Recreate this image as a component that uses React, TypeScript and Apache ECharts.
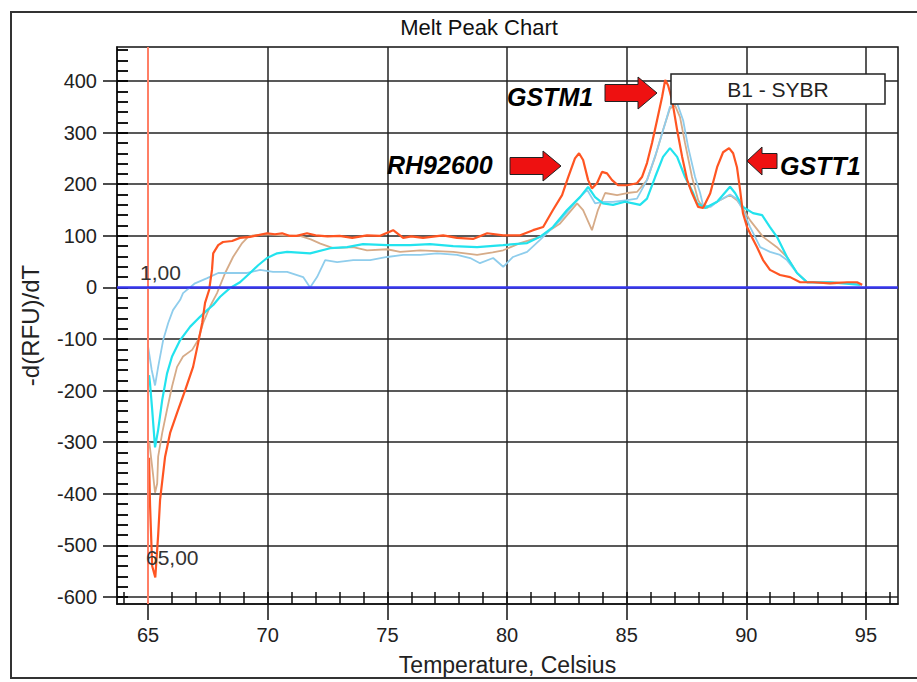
import React, { useEffect, useRef } from "react";
import * as echarts from "echarts";

// ---- Tick positions ----
const xMajorTicks = [65, 70, 75, 80, 85, 90, 95];
const xMinorTicks = [64, 65, 66, 67, 68, 69, 70, 71, 72, 73, 74, 75, 76, 77, 78, 79, 80, 81, 82, 83, 84, 85, 86, 87, 88, 89, 90, 91, 92, 93, 94, 95, 96];
const yMajorTicks = [-600, -500, -400, -300, -200, -100, 0, 100, 200, 300, 400];
const yMinorTicks = [
  -600, -580, -560, -540, -520, -500, -480, -460, -440, -420, -400, -380, -360, -340, -320, -300, -280, -260,
  -240, -220, -200, -180, -160, -140, -120, -100, -80, -60, -40, -20, 0, 20, 40, 60, 80, 100, 120, 140, 160, 180,
  200, 220, 240, 260, 280, 300, 320, 340, 360, 380, 400, 420, 440, 460,
];

// ---- Melt peak curves: [temperature, -d(RFU)/dT] ----
const orangeCurve: [number, number][] = [
  [65.04, -330], [65.08, -420], [65.17, -540], [65.3, -562], [65.42, -480], [65.5, -412], [65.71, -328], [65.92, -282],
  [66.21, -243], [66.55, -199], [66.88, -154], [67.09, -108], [67.26, -69], [67.38, -30], [67.55, -5], [67.67, 34],
  [67.72, 66], [67.93, 82], [68.13, 88], [68.51, 90], [68.84, 96], [69.26, 98], [69.56, 101], [69.97, 105],
  [70.3, 103], [70.6, 105], [70.9, 100], [71.2, 100], [71.64, 105], [72.0, 101], [72.5, 99], [73.0, 100],
  [73.53, 96], [74.15, 101], [74.7, 100], [75.24, 111], [75.66, 96], [76.0, 99], [76.49, 96], [77.33, 101],
  [77.91, 96], [78.58, 94], [79.17, 105], [79.84, 101], [80.55, 101], [81.09, 111], [81.51, 117], [81.92, 150],
  [82.3, 179], [82.55, 213], [82.84, 250], [83.01, 260], [83.18, 247], [83.39, 208], [83.55, 192], [83.76, 202],
  [83.97, 224], [84.18, 221], [84.39, 208], [84.64, 198], [85.02, 198], [85.43, 202], [85.64, 214], [85.85, 241],
  [86.06, 280], [86.27, 324], [86.48, 369], [86.61, 402], [86.73, 392], [86.9, 363], [87.11, 305], [87.32, 253],
  [87.53, 208], [87.73, 183], [87.99, 156], [88.19, 154], [88.49, 182], [88.78, 233], [89.03, 262], [89.28, 270],
  [89.45, 260], [89.61, 233], [89.74, 189], [89.86, 144], [90.03, 117], [90.24, 97], [90.45, 78], [90.7, 53],
  [90.99, 34], [91.41, 24], [91.83, 20], [92.25, 10], [92.79, 10], [93.5, 8], [94.21, 10], [94.63, 10], [94.84, 5],
];

const tanCurve: [number, number][] = [
  [65.05, -300], [65.2, -360], [65.29, -398], [65.38, -380], [65.42, -328], [65.59, -282], [65.79, -237], [66.0, -192],
  [66.21, -154], [66.46, -134], [66.84, -121], [67.09, -102], [67.3, -69], [67.59, -37], [67.88, -11], [68.22, 28],
  [68.55, 59], [68.93, 86], [69.18, 98], [69.39, 101], [70.0, 103], [70.6, 101], [71.35, 100], [71.8, 93],
  [72.2, 85], [72.73, 76], [73.57, 78], [74.15, 72], [74.99, 74], [75.53, 69], [76.37, 72], [77.75, 69],
  [78.75, 63], [79.4, 68], [79.84, 72], [80.55, 86], [81.38, 98], [82.22, 124], [82.93, 163], [83.18, 150],
  [83.55, 111], [83.8, 150], [84.1, 183], [84.6, 179], [85.02, 183], [85.43, 185], [85.85, 208], [86.19, 253],
  [86.52, 305], [86.81, 347], [87.02, 353], [87.23, 330], [87.44, 280], [87.73, 214], [87.99, 169], [88.07, 163],
  [88.36, 154], [88.78, 166], [89.32, 179], [89.61, 169], [89.82, 156], [90.16, 130], [90.7, 98], [91.28, 78],
  [91.7, 59], [92.12, 28], [92.54, 10], [93.5, 10], [94.5, 8], [94.84, 5],
];

const lightBlueCurve: [number, number][] = [
  [65.0, -115], [65.15, -160], [65.29, -190], [65.42, -154], [65.63, -102], [65.84, -69], [66.04, -44], [66.34, -24],
  [66.46, -11], [66.96, 8], [67.47, 18], [67.93, 28], [68.43, 28], [69.14, 28], [69.68, 34], [70.22, 30],
  [70.81, 30], [71.48, 20], [71.77, 0], [72.06, 20], [72.4, 53], [72.9, 49], [73.57, 53], [74.28, 53],
  [74.99, 59], [75.66, 63], [76.37, 63], [77.08, 66], [77.91, 63], [78.46, 57], [78.87, 47], [79.42, 57],
  [79.84, 40], [80.25, 59], [80.84, 69], [81.38, 92], [82.22, 130], [82.93, 169], [83.35, 189], [83.68, 163],
  [84.01, 166], [84.43, 166], [85.02, 169], [85.43, 172], [85.85, 208], [86.27, 266], [86.61, 318], [86.81, 350],
  [87.11, 357], [87.36, 324], [87.57, 272], [87.86, 214], [88.07, 183], [88.19, 160], [88.5, 156], [88.78, 166],
  [89.32, 180], [89.6, 172], [89.86, 150], [90.16, 117], [90.58, 78], [90.99, 69], [91.41, 63], [91.7, 53],
  [92.12, 28], [92.54, 10], [93.5, 8], [94.5, 8], [94.84, 5],
];

const cyanCurve: [number, number][] = [
  [65.04, -170], [65.08, -186], [65.17, -237], [65.29, -310], [65.42, -276], [65.59, -218], [65.79, -167], [66.0, -134],
  [66.34, -102], [66.76, -76], [67.17, -57], [67.47, -44], [67.72, -34], [68.01, -18], [68.43, -1], [68.84, 10],
  [69.26, 28], [69.6, 43], [69.97, 57], [70.39, 66], [70.81, 69], [71.77, 66], [72.61, 76], [73.32, 78],
  [73.98, 84], [74.99, 82], [75.95, 82], [76.78, 84], [77.75, 80], [78.75, 78], [79.84, 82], [80.84, 86],
  [81.38, 98], [81.92, 117], [82.51, 150], [83.05, 175], [83.39, 195], [83.68, 175], [84.01, 163], [84.43, 160],
  [84.93, 166], [85.27, 163], [85.56, 160], [85.85, 172], [86.19, 214], [86.52, 253], [86.81, 270], [87.11, 253],
  [87.44, 214], [87.78, 183], [87.94, 163], [88.28, 154], [88.78, 166], [89.32, 195], [89.53, 183], [89.86, 156],
  [90.28, 144], [90.66, 140], [90.99, 117], [91.28, 98], [91.7, 59], [92.12, 28], [92.54, 10], [93.5, 10], [94.75, 5],
];

const cursorTemp = 65;
const baselineValue = 0;

const FONT = "Liberation Sans, Arial, sans-serif";
const X_MIN = 63.7;
const X_MAX = 96.34;
const Y_MIN = -613.6;
const Y_MAX = 466;

function arrowRight(x0: number, xHead: number, xTip: number, yMid: number, bodyHalf: number, headHalf: number) {
  return [
    [x0, yMid - bodyHalf], [xHead, yMid - bodyHalf], [xHead, yMid - headHalf], [xTip, yMid],
    [xHead, yMid + headHalf], [xHead, yMid + bodyHalf], [x0, yMid + bodyHalf],
  ];
}

export default function App() {
  const ref = useRef<HTMLDivElement>(null);
  useEffect(() => {
    document.body.style.margin = "0";
    const chart = echarts.init(ref.current!, undefined, { renderer: "svg" });
    const axisLineStyle = { color: "#111", width: 1.5 };
    const option: any = {
      animation: false,
      backgroundColor: "#fff",
      grid: { left: 117, right: 19, top: 47, bottom: 78, show: true, borderColor: "#111", borderWidth: 1.5, outerBoundsMode: "none" },
      xAxis: [
        {
          type: "value", min: X_MIN, max: X_MAX, position: "bottom",
          name: "Temperature, Celsius", nameLocation: "middle", nameGap: 49,
          nameTextStyle: { fontSize: 23, color: "#222", fontFamily: FONT },
          axisLine: { show: true, onZero: false, lineStyle: axisLineStyle },
          axisTick: { show: true, customValues: xMajorTicks, length: 16, lineStyle: axisLineStyle },
          axisLabel: { customValues: xMajorTicks, margin: 21, fontSize: 20, color: "#222", fontFamily: FONT },
          splitLine: { show: true, lineStyle: { color: "#222", width: 1.5 } },
        },
        {
          type: "value", min: X_MIN, max: X_MAX, position: "bottom", offset: 0,
          axisLine: { show: false, onZero: false },
          axisTick: { show: true, inside: true, length: 12, customValues: xMinorTicks, lineStyle: axisLineStyle },
          axisLabel: { show: false },
          splitLine: { show: false },
        },
      ],
      yAxis: [
        {
          type: "value", min: Y_MIN, max: Y_MAX, position: "left", offset: 0,
          name: "-d(RFU)/dT", nameLocation: "middle", nameGap: 75,
          nameTextStyle: { fontSize: 24, color: "#222", fontFamily: FONT },
          axisLine: { show: true, onZero: false, lineStyle: axisLineStyle },
          axisTick: { show: true, customValues: yMajorTicks, length: 14, lineStyle: axisLineStyle },
          axisLabel: { customValues: yMajorTicks, margin: 20, fontSize: 20, color: "#222", fontFamily: FONT },
          splitLine: { show: true, lineStyle: { color: "#222", width: 1.5 } },
        },
        {
          type: "value", min: Y_MIN, max: Y_MAX, position: "left", offset: 0,
          axisLine: { show: false, onZero: false },
          axisTick: { show: true, inside: true, length: 11, customValues: yMinorTicks, lineStyle: { color: "#000", width: 1.8 } },
          axisLabel: { show: false },
          splitLine: { show: false },
        },
      ],
      series: [
        {
          type: "line", data: tanCurve, showSymbol: false, silent: true,
          lineStyle: { color: "#d6ab88", width: 1.8 },
        },
        {
          type: "line", data: lightBlueCurve, showSymbol: false, silent: true,
          lineStyle: { color: "#8fcdec", width: 1.8 },
        },
        {
          type: "line", data: cyanCurve, showSymbol: false, silent: true,
          lineStyle: { color: "#22e3ee", width: 2.2 },
        },
        {
          type: "line", data: orangeCurve, showSymbol: false, silent: true,
          lineStyle: { color: "#ff5522", width: 2.2 },
          markLine: {
            silent: true, symbol: "none", label: { show: false },
            data: [
              { xAxis: cursorTemp, lineStyle: { color: "#ff7f66", width: 2, type: "solid" } },
              { yAxis: baselineValue, lineStyle: { color: "#3535ee", width: 2.5, type: "solid" } },
            ],
          },
        },
      ],
      graphic: [
        { type: "rect", shape: { x: 11, y: 12, width: 920, height: 666 }, style: { fill: "none", stroke: "#333", lineWidth: 2 }, z: 1 },
        { type: "text", x: 479, y: 27, style: { text: "Melt Peak Chart", font: `22px ${FONT}`, fill: "#111", align: "center", verticalAlign: "middle" } },
        { type: "text", x: 140, y: 272, style: { text: "1,00", font: `21px ${FONT}`, fill: "#333", align: "left", verticalAlign: "middle" }, z: 50 },
        { type: "text", x: 146, y: 557, style: { text: "65,00", font: `21px ${FONT}`, fill: "#333", align: "left", verticalAlign: "middle" }, z: 50 },
        { type: "rect", shape: { x: 671, y: 74, width: 214, height: 30 }, style: { fill: "#fff", stroke: "#222", lineWidth: 1.5 }, z: 50 },
        { type: "text", x: 778, y: 89, style: { text: "B1 - SYBR", font: `21px ${FONT}`, fill: "#222", align: "center", verticalAlign: "middle" }, z: 51 },
        { type: "polygon", shape: { points: arrowRight(605, 638, 657, 93, 8.5, 16) }, style: { fill: "#ee1111", stroke: "#222", lineWidth: 1 }, z: 50 },
        { type: "polygon", shape: { points: arrowRight(510, 543, 561, 166, 8.5, 15) }, style: { fill: "#ee1111", stroke: "#222", lineWidth: 1 }, z: 50 },
        { type: "polygon", shape: { points: arrowRight(777, 762, 747, 161, 7.5, 14) }, style: { fill: "#ee1111", stroke: "#222", lineWidth: 1 }, z: 50 },
        { type: "text", x: 507, y: 97, style: { text: "GSTM1", font: `italic bold 25px ${FONT}`, fill: "#000", align: "left", verticalAlign: "middle" }, z: 50 },
        { type: "text", x: 387, y: 165, style: { text: "RH92600", font: `italic bold 25px ${FONT}`, fill: "#000", align: "left", verticalAlign: "middle" }, z: 50 },
        { type: "text", x: 780, y: 166, style: { text: "GSTT1", font: `italic bold 25px ${FONT}`, fill: "#000", align: "left", verticalAlign: "middle" }, z: 50 },
      ],
    };
    chart.setOption(option);
    return () => chart.dispose();
  }, []);
  return <div ref={ref} style={{ position: "fixed", left: 0, top: 0, width: 917, height: 682, background: "#fff" }} />;
}
